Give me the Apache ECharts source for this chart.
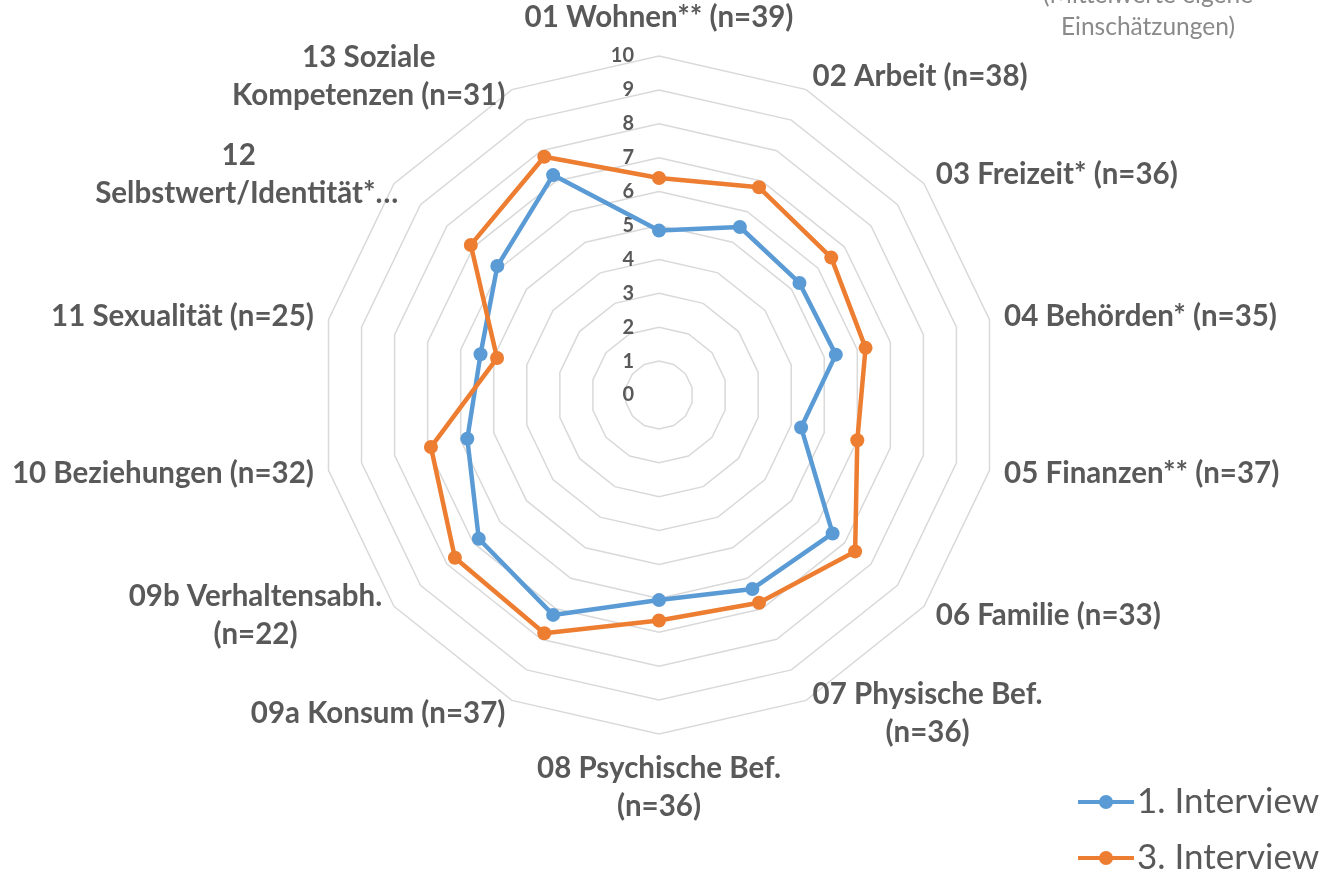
<!DOCTYPE html>
<html>
<head>
<meta charset="utf-8">
<script src="https://cdn.jsdelivr.net/npm/echarts@6/dist/echarts.min.js"></script>
<style>
  html, body { margin: 0; padding: 0; background: #fff; }
  #chart { width: 1321px; height: 871px; }
</style>
</head>
<body>
<div id="chart"></div>
<script>
// Lebensbereiche (Reihenfolge wie im Original, im Uhrzeigersinn ab oben)
const areas = [
  '01 Wohnen** (n=39)',
  '02 Arbeit (n=38)',
  '03 Freizeit* (n=36)',
  '04 Behörden* (n=35)',
  '05 Finanzen** (n=37)',
  '06 Familie (n=33)',
  '07 Physische Bef.\n(n=36)',
  '08 Psychische Bef.\n(n=36)',
  '09a Konsum (n=37)',
  '09b Verhaltensabh.\n(n=22)',
  '10 Beziehungen (n=32)',
  '11 Sexualität (n=25)',
  '12\nSelbstwert/Identität*…',
  '13 Soziale\nKompetenzen (n=31)'
]
const seriesNames = ['1. Interview', '3. Interview']
const interview1 = [4.85, 5.5, 5.3, 5.35, 4.3, 6.55, 6.35, 6.05, 7.2, 6.8, 5.8, 5.4, 6.1, 7.2]
const interview3 = [6.4, 6.8, 6.5, 6.25, 6.0, 7.4, 6.8, 6.65, 7.8, 7.7, 6.9, 4.9, 7.1, 7.8]
const scaleMin = 0
const scaleMax = 10
const subtitle = '(Mittelwerte eigene\nEinschätzungen)'

const colors = ['#5B9BD5', '#ED7D31']
const textGrey = '#595959'
const font = 'Lato, "Open Sans", sans-serif'
const nameSize = 29.5

// ECharts legt die Achsen gegen den Uhrzeigersinn an -> Reihenfolge umdrehen
const order = [0].concat(areas.map((a, i) => i).slice(1).reverse())
const reorder = arr => order.map(i => arr[i])

const indicator = order.map(i => {
  const ind = { name: areas[i], min: scaleMin, max: scaleMax }
  if (i === 0) {
    ind.nameGap = 20
    ind.axisLabel = {
      show: true,
      margin: 25,
      color: textGrey,
      fontFamily: font,
      fontWeight: 'bold',
      fontSize: 20
    }
  }
  return ind
})

const chart = echarts.init(document.getElementById('chart'))

const option = {
  animation: false,
  color: colors,
  graphic: [{
    type: 'text',
    x: 1148,
    y: -21,
    style: {
      text: subtitle,
      fontFamily: font,
      fontSize: 24.5,
      lineHeight: 32,
      fill: '#8a8a8a',
      align: 'center',
      verticalAlign: 'top'
    }
  }],
  legend: {
    orient: 'vertical',
    left: 1073,
    top: 777,
    height: 130,
    itemWidth: 56,
    itemHeight: 14,
    itemGap: 16,
    data: seriesNames.map(n => ({
      name: n,
      icon: 'path://M0,5 H22 V9 H0 Z M34,5 H56 V9 H34 Z M28,0 A7,7 0 1,1 28,14 A7,7 0 1,1 28,0 Z'
    })),
    itemStyle: { borderWidth: 0 },
    textStyle: {
      color: textGrey,
      fontFamily: font,
      fontSize: 35,
      lineHeight: 40,
      padding: [0, 0, 0, -2]
    }
  },
  radar: {
    center: [659, 395],
    radius: 339,
    startAngle: 90,
    splitNumber: 10,
    shape: 'polygon',
    nameGap: 15,
    indicator: indicator,
    axisName: {
      color: textGrey,
      fontFamily: font,
      fontWeight: 'bold',
      fontSize: nameSize,
      lineHeight: 38,
      formatter: name => name.split('\n')
        .map(line => (line.endsWith('…') ? '{o|' : '{c|') + line + '}')
        .join('\n'),
      rich: {
        c: { align: 'center', color: textGrey, fontFamily: font, fontWeight: 'bold', fontSize: nameSize, lineHeight: 38 },
        o: { align: 'left', width: 287, color: textGrey, fontFamily: font, fontWeight: 'bold', fontSize: nameSize, lineHeight: 38 }
      }
    },
    axisLine: { show: false },
    axisTick: { show: false },
    axisLabel: { show: false },
    splitLine: { lineStyle: { color: '#D9D9D9', width: 1.5 } },
    splitArea: { show: false }
  },
  series: [{
    type: 'radar',
    symbol: 'circle',
    symbolSize: 14,
    data: [
      {
        name: seriesNames[0],
        value: reorder(interview1),
        itemStyle: { color: colors[0] },
        lineStyle: { color: colors[0], width: 4.5 }
      },
      {
        name: seriesNames[1],
        value: reorder(interview3),
        itemStyle: { color: colors[1] },
        lineStyle: { color: colors[1], width: 4.5 }
      }
    ]
  }]
}

chart.setOption(option)
</script>
</body>
</html>
